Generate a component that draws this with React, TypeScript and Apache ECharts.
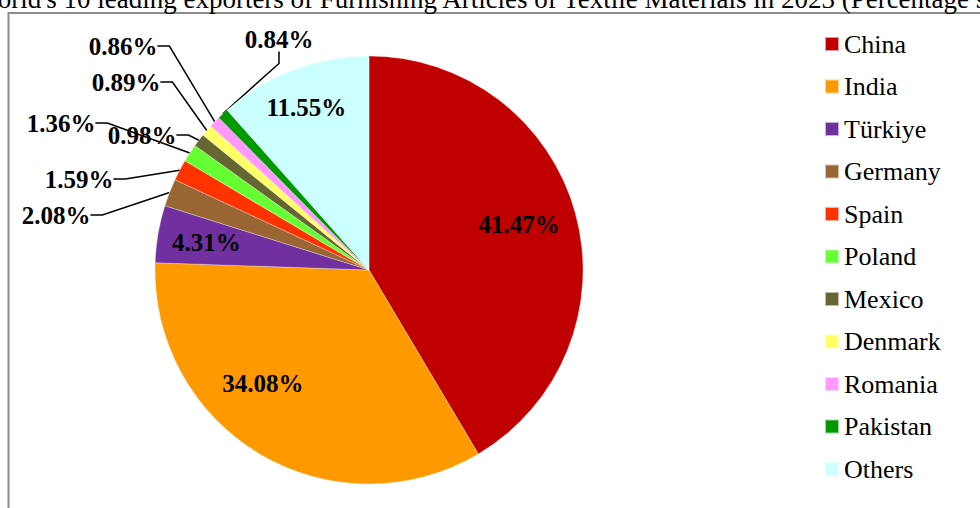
import React, { useEffect, useRef } from "react";
import * as echarts from "echarts";

const categories = ["China", "India", "Türkiye", "Germany", "Spain", "Poland", "Mexico", "Denmark", "Romania", "Pakistan", "Others"];
const shares = [41.47, 34.08, 4.31, 2.08, 1.59, 1.36, 0.98, 0.89, 0.86, 0.84, 11.55];
const colors = ["#C00000", "#FF9900", "#7030A0", "#996633", "#FF3300", "#66FF33", "#666633", "#FFFF66", "#FF99FF", "#009900", "#CCFFFF"];
const insideLabelled = ["China", "India", "Türkiye", "Others"];
const titleText = "World's 10 leading exporters of Furnishing Articles of Textile Materials in 2023 (Percentage share)";

// label placement (annotation layout, label centres in px) for the small slices
const outsideLabelPos: Record<string, [number, number]> = {
  Germany: [56, 215],
  Spain: [79, 179],
  Poland: [61, 123],
  Mexico: [142, 135],
  Denmark: [126, 82],
  Romania: [123, 46],
  Pakistan: [279, 39],
};

const FONT = "'Liberation Serif', 'Times New Roman', serif";

export default function App() {
  const ref = useRef<HTMLDivElement>(null);
  useEffect(() => {
    if (!ref.current) return;
    const chart = echarts.init(ref.current, undefined, { renderer: "svg" });
    const labelFmt = (p: any) => p.value.toFixed(2) + "%";
    const mainData = categories.map((name, i) => ({
      name,
      value: shares[i],
      itemStyle: { color: colors[i] },
      label: { show: !insideLabelled.includes(name) },
      labelLine: { show: !insideLabelled.includes(name) },
    }));
    const overlayData = categories.map((name, i) => ({
      name,
      value: shares[i],
      label: { show: insideLabelled.includes(name) },
    }));
    chart.setOption({
      animation: false,
      backgroundColor: "#ffffff",
      graphic: [
        {
          type: "text",
          x: -25.5,
          y: -1,
          style: {
            text: titleText,
            font: "27px " + FONT,
            fill: "#000",
            verticalAlign: "middle",
            align: "left",
          },
        },
        {
          type: "rect",
          shape: { x: 8.5, y: 13, width: 1000, height: 520 },
          style: { fill: "none", stroke: "#8c8c8c", lineWidth: 2 },
          z: -1,
        },
      ],
      legend: {
        orient: "vertical",
        left: 819,
        top: 26,
        itemWidth: 14,
        itemHeight: 14,
        itemGap: 16.5,
        icon: "rect",
        data: categories,
        textStyle: { fontFamily: FONT, fontSize: 26, color: "#000", lineHeight: 26 },
        selectedMode: false,
      },
      series: [
        {
          type: "pie",
          center: [369, 270],
          radius: [0, 214],
          startAngle: 90,
          clockwise: true,
          itemStyle: { borderColor: "rgba(255,255,255,0.6)", borderWidth: 0.5 },
          label: {
            position: "outside",
            formatter: labelFmt,
            fontFamily: FONT,
            fontSize: 25,
            fontWeight: "bold",
            color: "#000",
          },
          labelLine: {
            length: 10,
            length2: 12,
            lineStyle: { color: "#000", width: 1.5 },
          },
          labelLayout: (params: any) => {
            const name = categories[params.dataIndex];
            const pos = outsideLabelPos[name];
            if (!pos) return {};
            return { x: pos[0], y: pos[1], align: "center", verticalAlign: "middle" };
          },
          data: mainData,
          silent: true,
        },
        {
          type: "pie",
          center: [369, 270],
          radius: [110, 214],
          startAngle: 90,
          clockwise: true,
          itemStyle: { color: "rgba(0,0,0,0)" },
          label: {
            position: "inside",
            formatter: labelFmt,
            fontFamily: FONT,
            fontSize: 25,
            fontWeight: "bold",
            color: "#000",
          },
          labelLayout: (params: any) => {
            if (categories[params.dataIndex] === "India") return { dx: -22, dy: -29 };
            if (categories[params.dataIndex] === "China") return { dx: -9, dy: -2 };
            if (categories[params.dataIndex] === "Others") return { dx: -4, dy: -8 };
            return {};
          },
          labelLine: { show: false },
          data: overlayData,
          silent: true,
        },
      ],
    });
    return () => chart.dispose();
  }, []);
  return <div ref={ref} style={{ position: "fixed", left: 0, top: 0, width: 980, height: 508 }} />;
}
